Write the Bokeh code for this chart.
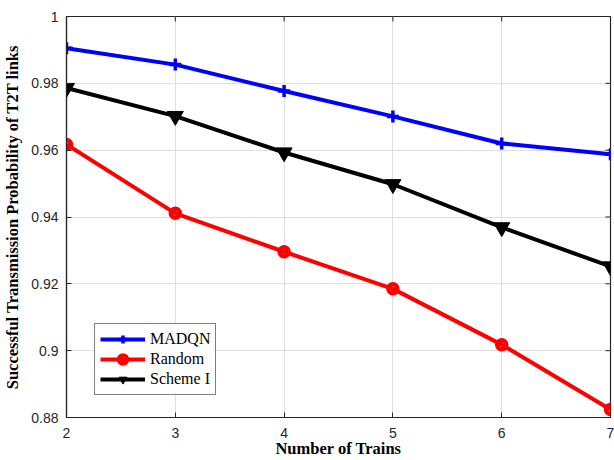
import math
from bokeh.plotting import figure
from bokeh.models import (Range1d, FixedTicker, Legend, LegendItem,
                          CustomJSTickFormatter)
from bokeh.embed import file_html
from bokeh.resources import INLINE

# ---- data ----
trains = [2, 3, 4, 5, 6, 7]
madqn = [0.9905, 0.9856, 0.9777, 0.9701, 0.9620, 0.9588]
random_ = [0.9617, 0.9411, 0.9296, 0.9185, 0.9018, 0.8824]
scheme1 = [0.9786, 0.9702, 0.9593, 0.9498, 0.9369, 0.9252]
x_ticks = [2, 3, 4, 5, 6, 7]
y_ticks = [0.88, 0.90, 0.92, 0.94, 0.96, 0.98, 1.00]

AX = "#262626"
GRID = "#dfdfdf"

p = figure(width=614, height=460, output_backend="svg", toolbar_location=None,
           x_range=Range1d(x_ticks[0], x_ticks[-1]),
           y_range=Range1d(y_ticks[0], y_ticks[-1]),
           min_border_left=66, min_border_right=4, min_border_top=16,
           min_border_bottom=42, background_fill_color="white",
           border_fill_color="white")

p.outline_line_color = AX
p.outline_line_width = 1.2

fmt = CustomJSTickFormatter(code="return parseFloat(tick.toFixed(2)).toString();")

for ax in p.xaxis + p.yaxis:
    ax.major_tick_in = 5
    ax.major_tick_out = 0
    ax.minor_tick_in = 0
    ax.minor_tick_out = 0
    ax.axis_line_color = AX
    ax.axis_line_width = 1.2
    ax.major_tick_line_color = AX
    ax.major_label_text_font = "Liberation Sans"
    ax.major_label_text_font_size = "14px"
    ax.major_label_text_color = AX
    ax.axis_label_text_font = "Liberation Serif"
    ax.axis_label_text_font_style = "bold"
    ax.axis_label_text_font_size = "16.5px"
    ax.axis_label_text_color = "black"

p.xaxis.ticker = FixedTicker(ticks=x_ticks)
p.yaxis.ticker = FixedTicker(ticks=y_ticks)
p.yaxis.formatter = fmt
p.xaxis.axis_label = "Number of Trains"
p.yaxis.axis_label = "Successful Transmission Probability of T2T links"
p.xaxis.major_label_standoff = 10
p.xaxis.axis_label_standoff = -2
p.yaxis.major_label_standoff = 8
p.yaxis.axis_label_standoff = 6

p.xgrid.grid_line_color = GRID
p.ygrid.grid_line_color = GRID
p.xgrid.ticker = FixedTicker(ticks=x_ticks)
p.ygrid.ticker = FixedTicker(ticks=y_ticks)

# inward ticks on the right and top edges of the box (clipped to the frame)
p.scatter([x_ticks[-1]] * len(y_ticks), y_ticks, marker="dash", size=10,
          line_color=AX, line_width=1)
p.scatter(x_ticks, [y_ticks[-1]] * len(x_ticks), marker="dash", size=10,
          angle=math.pi / 2, line_color=AX, line_width=1)

l1 = p.line(trains, madqn, line_color="#0000ff", line_width=4)
m1 = p.scatter(trains, madqn, marker="cross", size=12, line_color="#0000ff", line_width=3.5)
l2 = p.line(trains, random_, line_color="#ff0000", line_width=4)
m2 = p.scatter(trains, random_, marker="circle", size=9, line_color="#ff0000",
               fill_color=None, line_width=4.5)
l3 = p.line(trains, scheme1, line_color="black", line_width=4)
m3 = p.scatter(trains, scheme1, marker="inverted_triangle", size=16, line_color="black",
               fill_color="black", line_width=1)

legend = Legend(items=[
    LegendItem(label="MADQN", renderers=[l1, m1]),
    LegendItem(label="Random", renderers=[l2, m2]),
    LegendItem(label="Scheme I", renderers=[l3, m3]),
], location=(28, 22))
legend.label_text_font = "Liberation Serif"
legend.label_text_font_size = "16px"
legend.label_text_color = "black"
legend.border_line_color = "black"
legend.border_line_width = 1.2
legend.background_fill_color = "white"
legend.background_fill_alpha = 1.0
legend.glyph_width = 45
legend.glyph_height = 20
legend.label_height = 20
legend.label_standoff = 5
legend.spacing = 0
legend.padding = 5
legend.margin = 0
p.add_layout(legend, "center")

open("out.html", "w").write(file_html(p, INLINE))
